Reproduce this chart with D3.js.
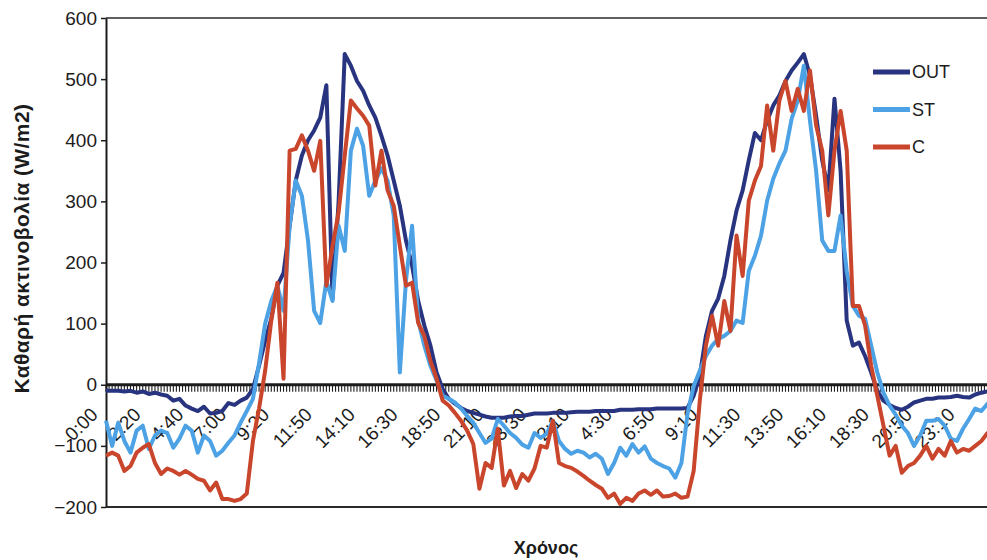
<!DOCTYPE html>
<html>
<head>
<meta charset="utf-8">
<script src="https://cdn.jsdelivr.net/npm/d3@7"></script>
<style>
    body { margin: 0; background: #ffffff; }
    text { font-family: "Liberation Sans", Arial, sans-serif; fill: #1c1c1c; }
</style>
</head>
<body>
<div id="my_dataviz"></div>
<script>
// net radiation (W/m2), one stored sample every second 10-min category
var outValues = [
    -10, -10, -10, -11, -10, -13, -11, -15, -13, -16, -18, -26, -23, -34, -39, -43, -36, -47, -46, -43,
    -30, -33, -26, -21, -7, 31, 72, 108, 162, 183, 260, 334, 375, 400, 416, 437, 490, 140, 300, 541,
    522, 497, 481, 457, 437, 407, 375, 334, 293, 236, 195, 137, 97, 64, 20, -7, -23, -31, -38, -43,
    -46, -49, -52, -54, -54, -54, -52, -51, -51, -49, -47, -47, -47, -46, -46, -46, -45, -44, -44, -44,
    -43, -43, -43, -43, -41, -41, -41, -40, -40, -40, -39, -39, -39, -39, -39, -38, -18, 15, 80, 121,
    141, 178, 236, 285, 318, 367, 412, 400, 432, 457, 473, 497, 514, 527, 541, 506, 440, 367, 318, 468,
    350, 105, 64, 69, 47, 20, -10, -26, -33, -38, -41, -36, -29, -26, -23, -23, -21, -21, -20, -18,
    -20, -21, -16, -13, -11, -11
];
var stValues = [
    -59, -100, -62, -92, -111, -75, -67, -105, -83, -75, -79, -103, -88, -67, -75, -111, -83, -92, -116, -108,
    -95, -83, -62, -43, -23, 35, 100, 137, 162, 121, 260, 334, 309, 236, 121, 101, 170, 137, 260, 219,
    383, 419, 391, 309, 334, 354, 334, 277, 20, 170, 260, 105, 64, 31, 7, -18, -23, -29, -39, -51,
    -62, -79, -95, -88, -56, -67, -79, -87, -98, -103, -79, -87, -80, -59, -92, -105, -113, -108, -111, -119,
    -113, -121, -146, -128, -103, -116, -97, -111, -101, -121, -128, -133, -137, -152, -128, -47, -2, 23, 47, 64,
    75, 80, 88, 105, 101, 186, 211, 244, 301, 337, 362, 383, 435, 465, 522, 432, 350, 236, 219, 219,
    277, 186, 129, 113, 108, 64, 20, -13, -34, -49, -67, -79, -100, -83, -59, -59, -56, -67, -88, -92,
    -72, -56, -39, -43, -31, -26
];
var cValues = [
    -116, -111, -116, -141, -133, -111, -103, -97, -128, -146, -137, -141, -147, -141, -147, -154, -157, -173, -160, -187,
    -187, -190, -187, -178, -92, -39, 23, 105, 167, 10, 383, 386, 408, 383, 350, 399, 162, 227, 282, 375,
    465, 452, 440, 424, 326, 383, 318, 293, 227, 162, 167, 101, 80, 39, 10, -26, -34, -46, -59, -75,
    -97, -170, -128, -136, -72, -165, -141, -169, -146, -157, -137, -100, -103, -59, -128, -133, -136, -142, -149, -157,
    -164, -170, -185, -178, -195, -185, -190, -178, -173, -180, -173, -183, -182, -178, -185, -183, -141, -26, 64, 113,
    64, 137, 88, 244, 178, 301, 334, 358, 457, 383, 465, 497, 448, 484, 448, 514, 424, 383, 277, 383,
    448, 383, 129, 129, 97, 31, -18, -67, -116, -100, -144, -133, -128, -116, -100, -121, -105, -116, -92, -111,
    -105, -108, -100, -92, -79, -75
];

var seriesNames = ["OUT", "ST", "C"];
var seriesColors = ["#28347f", "#4ca2e4", "#c9462c"];

var tickLabels = ["0:00", "2:20", "4:40", "7:00", "9:20", "11:50", "14:10", "16:30", "18:50", "21:10", "23:30",
    "2:10", "4:30", "6:50", "9:10", "11:30", "13:50", "16:10", "18:30", "20:50", "23:10"];
var labelEvery = 14;     // categories between two time labels
var sampleStep = 2;      // categories between two stored samples
var categoryCount = 296;

var yTicks = [-200, -100, 0, 100, 200, 300, 400, 500, 600];

var margin = {
        top: 18,
        right: -25,
        bottom: 53,
        left: 106
    },
    width = 987 - margin.left - margin.right,
    height = 560 - margin.top - margin.bottom;

var svg = d3.select("#my_dataviz")
    .append("svg")
    .attr("width", 987)
    .attr("height", 560)
    .style("display", "block")
    .append("g")
    .attr("transform", "translate(" + margin.left + "," + margin.top + ")");

var x = d3.scaleLinear()
    .domain([0, categoryCount])
    .range([0, width]);

var y = d3.scaleLinear()
    .domain([-200, 600])
    .range([height, 0]);

// plot frame, top and bottom edges
svg.append("line")
    .attr("x1", 0).attr("x2", width)
    .attr("y1", 0).attr("y2", 0)
    .attr("stroke", "#2a2a2a")
    .attr("stroke-width", 1.5);
svg.append("line")
    .attr("x1", 0).attr("x2", width)
    .attr("y1", height).attr("y2", height)
    .attr("stroke", "#2a2a2a")
    .attr("stroke-width", 2);

// Y axis
var yAxis = svg.append("g")
    .call(d3.axisLeft(y).tickValues(yTicks).tickSize(5).tickSizeOuter(0).tickPadding(4));
yAxis.select(".domain").attr("stroke", "#1c1c1c").attr("stroke-width", 2);
yAxis.selectAll(".tick line").attr("stroke", "#1c1c1c").attr("stroke-width", 1.5);
yAxis.selectAll("text")
    .style("font-size", "19px")
    .style("font-family", "'Liberation Sans', Arial, sans-serif")
    .attr("fill", "#1c1c1c");

// category axis through zero, one tick per 10 minutes
var xAxis = svg.append("g")
    .attr("transform", "translate(0," + y(0) + ")");

xAxis.selectAll("line.cat")
    .data(d3.range(0, categoryCount + 1))
    .enter()
    .append("line")
    .attr("class", "cat")
    .attr("x1", function (d) { return x(d); })
    .attr("x2", function (d) { return x(d); })
    .attr("y1", 0)
    .attr("y2", 7)
    .attr("stroke", "#1c1c1c")
    .attr("stroke-width", 1.1);

xAxis.append("line")
    .attr("x1", 0).attr("x2", width)
    .attr("y1", 0).attr("y2", 0)
    .attr("stroke", "#1c1c1c")
    .attr("stroke-width", 3);

xAxis.selectAll("text.lbl")
    .data(tickLabels)
    .enter()
    .append("text")
    .attr("class", "lbl")
    .attr("text-anchor", "end")
    .attr("transform", function (d, i) {
        return "translate(" + (x(i * labelEvery) - 7) + ",31) rotate(-45)";
    })
    .style("font-size", "19px")
    .text(function (d) { return d; });

// the three series
var line = d3.line()
    .x(function (d, i) { return x(i * sampleStep); })
    .y(function (d) { return y(d); });

[outValues, stValues, cValues].forEach(function (values, s) {
    svg.append("path")
        .datum(values)
        .attr("fill", "none")
        .attr("stroke", seriesColors[s])
        .attr("stroke-width", 4)
        .attr("stroke-linejoin", "round")
        .attr("d", line);
});

// legend
var legend = svg.append("g")
    .attr("transform", "translate(767,54)");

seriesNames.forEach(function (name, i) {
    var row = legend.append("g")
        .attr("transform", "translate(0," + (i * 37.5) + ")");
    row.append("line")
        .attr("x1", 0).attr("x2", 37)
        .attr("y1", 0).attr("y2", 0)
        .attr("stroke", seriesColors[i])
        .attr("stroke-width", 5);
    row.append("text")
        .attr("x", 39)
        .attr("y", 0)
        .attr("dy", "0.36em")
        .style("font-size", "18px")
        .text(name);
});

// axis titles
svg.append("text")
    .attr("x", 440)
    .attr("y", height + 47)
    .attr("text-anchor", "middle")
    .style("font-size", "18px")
    .style("font-weight", "bold")
    .text("Χρόνος");

svg.append("text")
    .attr("transform", "translate(" + (-77) + "," + (y(200) - 14) + ") rotate(-90)")
    .attr("text-anchor", "middle")
    .style("font-size", "21px")
    .style("font-weight", "bold")
    .style("letter-spacing", "0.4px")
    .text("Καθαρή ακτινοβολία (W/m2)");
</script>
</body>
</html>
